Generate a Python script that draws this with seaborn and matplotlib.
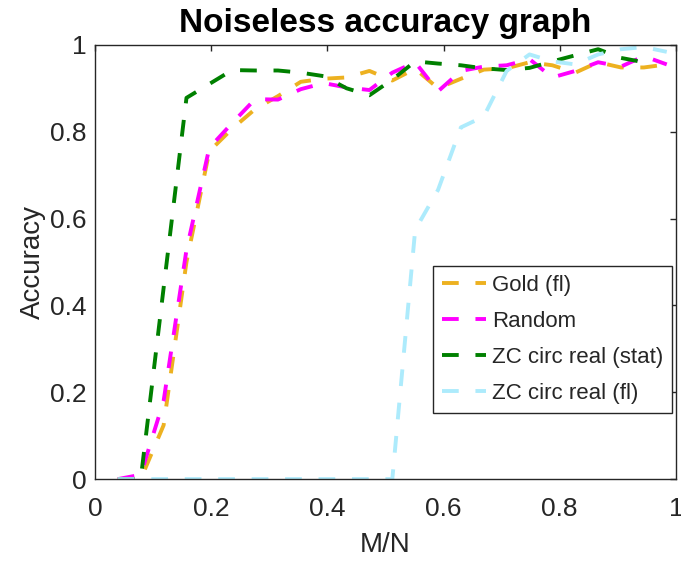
import numpy as np
import pandas as pd
import seaborn as sns
import matplotlib
matplotlib.use("Agg")
import matplotlib.pyplot as plt

# M/N grid (N = 127)
M = [5, 10, 15, 20, 25, 30, 35, 40, 45, 50, 55, 60, 65,
     70, 75, 80, 85, 90, 95, 100, 105, 110, 115, 120, 125]
N = 127

gold_fl = [0, 0, 0.124, 0.50, 0.755, 0.807, 0.852, 0.882, 0.915, 0.922, 0.925, 0.94, 0.918,
           0.945, 0.90, 0.922, 0.943, 0.946, 0.96, 0.953, 0.936, 0.96, 0.948, 0.948, 0.955]
random_acc = [0, 0.01, 0.18, 0.528, 0.763, 0.82, 0.875, 0.874, 0.898, 0.912, 0.902, 0.896, 0.936,
              0.96, 0.893, 0.94, 0.95, 0.953, 0.967, 0.925, 0.94, 0.96, 0.95, 0.974, 0.955]
zc_stat = [0, 0, 0.44, 0.878, 0.91, 0.942, 0.941, 0.941, 0.936, 0.928, 0.90, 0.884, 0.92,
           0.962, 0.957, 0.953, 0.946, 0.942, 0.947, 0.962, 0.976, 0.99, 0.97, 0.96, np.nan]
zc_fl = [0, 0, 0, 0, 0, 0, 0, 0, 0, 0, 0, 0, 0,
         0.574, 0.666, 0.81, 0.835, 0.94, 0.978, 0.962, 0.955, 0.978, 0.99, 0.995, 0.984]

labels = ["Gold (fl)", "Random", "ZC circ real (stat)", "ZC circ real (fl)"]
colors = ["#EDB120", "#FF00FF", "#008000", "#ADEBFC"]
series = [gold_fl, random_acc, zc_stat, zc_fl]

x = np.array(M) / N

sns.set_theme(style="white")
plt.rcParams["font.family"] = ["Liberation Sans", "DejaVu Sans"]

fig = plt.figure(figsize=(6.81, 5.61), dpi=100)
ax = fig.add_axes([0.1395, 0.146, 0.853, 0.774])

handles = []
for vals, lab, col in zip(series, labels, colors):
    df = pd.DataFrame({"x": x, "y": vals}).dropna()
    sns.lineplot(data=df, x="x", y="y", ax=ax, color=col, linewidth=2.8,
                 sort=False, estimator=None)
    line = ax.lines[-1]
    line.set_linestyle((0, (4.3, 4.3)))
    line.set_dash_capstyle("butt")
    handles.append(line)

ax.set_xlim(0, 1)
ax.set_ylim(0, 1)
ticks = [0, 0.2, 0.4, 0.6, 0.8, 1]
tick_labels = ["0", "0.2", "0.4", "0.6", "0.8", "1"]
ax.set_xticks(ticks)
ax.set_xticklabels(tick_labels)
ax.set_yticks(ticks)
ax.set_yticklabels(tick_labels)
ax.tick_params(direction="in", length=4, width=1, top=True, right=True,
               labelsize=19, colors="#262626")
ax.tick_params(axis="x", pad=13)
ax.tick_params(axis="y", pad=6)
for sp in ax.spines.values():
    sp.set_color("#262626")
    sp.set_linewidth(1)

ax.set_xlabel("M/N", fontsize=20, color="#262626", labelpad=8)
ax.set_ylabel("Accuracy", fontsize=20, color="#262626", labelpad=3)
ax.set_title("Noiseless accuracy graph", fontsize=24, fontweight="bold", color="black", pad=9)

leg = ax.legend(handles, labels, loc="upper right", bbox_to_anchor=(0.993, 0.491),
                borderaxespad=0, fontsize=16, frameon=True, fancybox=False,
                framealpha=1, edgecolor="#262626", handlelength=2.0,
                handletextpad=0.25, labelspacing=0.68, borderpad=0.4)
leg.get_frame().set_linewidth(1)

fig.savefig("out.png", dpi=100)
